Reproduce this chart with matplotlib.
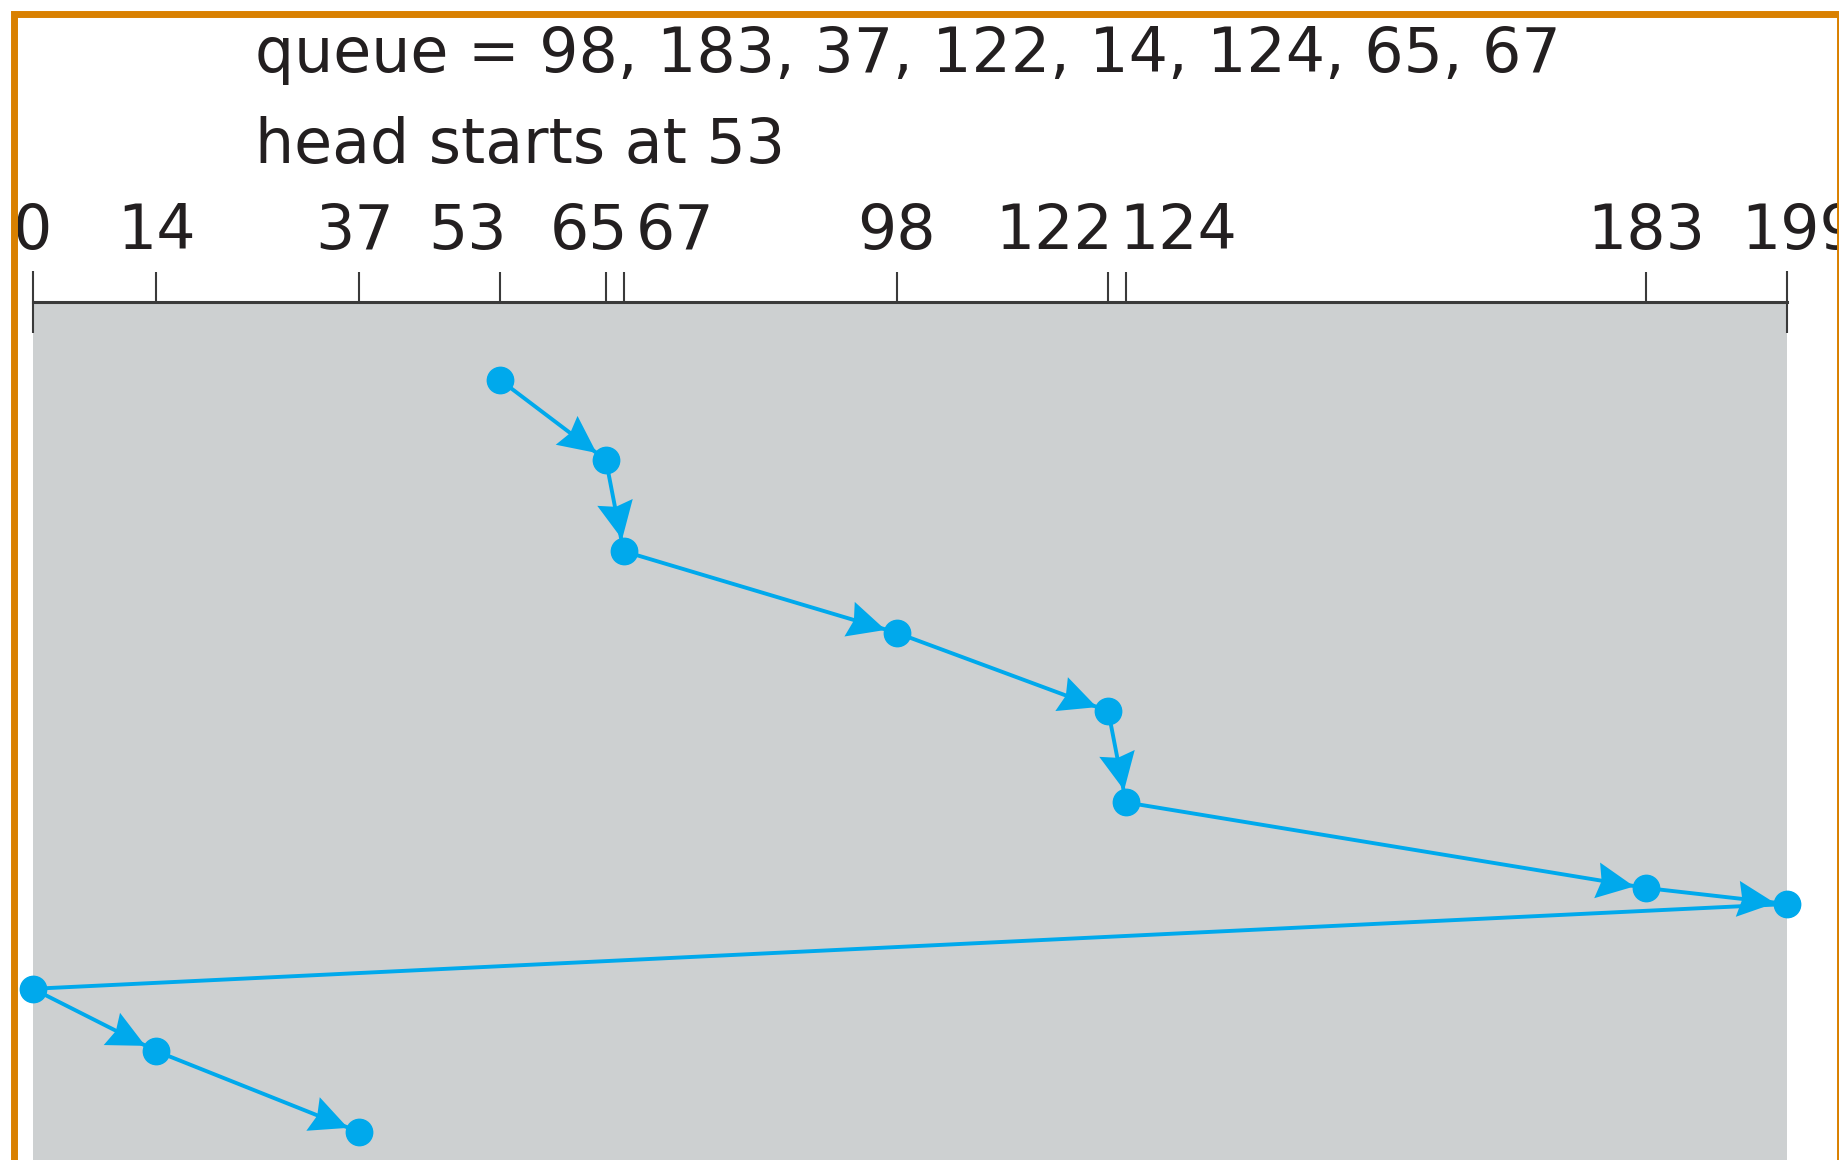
import matplotlib
matplotlib.use("Agg")
import numpy as np
import matplotlib.pyplot as plt
import matplotlib.patches as mpatches
import matplotlib.transforms as mtransforms
from matplotlib.path import Path
from matplotlib.markers import MarkerStyle

# disk request queue and head start (C-SCAN scheduling diagram)
queue = [98, 183, 37, 122, 14, 124, 65, 67]
head = 53
disk_first = 0
disk_last = 199

# order the head visits the cylinders, and when
service_order = [53, 65, 67, 98, 122, 124, 183, 199, 0, 14, 37]
service_time = [0.0, 1.0, 2.14, 3.16, 4.14, 5.28, 6.35, 6.55, 7.61, 8.39, 9.4]

BLUE = "#00a9ec"
GRAY = "#cdd0d1"
ORANGE = "#d98000"
INK = "#231f20"
AXIS = "#3a3a3a"
FONT = "DejaVu Sans"
FS = 44.5

# label nudges in pixels, so the crowded numbers don't collide
label_nudge = {37: -4, 53: -33, 65: -17, 67: 52, 122: -54, 124: 52, 199: 13}


def arrow_head(angle, back=9, length=27, half_w=13, notch=0.88):
    """Barbed arrowhead marker (units: points) whose tip sits `back` before the target."""
    verts = np.array([(0, 0), (-length, half_w), (-length * notch, 0),
                      (-length, -half_w), (0, 0)], dtype=float)
    verts[:, 0] -= back
    codes = [Path.MOVETO, Path.LINETO, Path.LINETO, Path.LINETO, Path.CLOSEPOLY]
    size = 2 * np.abs(verts).max()
    rot = mtransforms.Affine2D().rotate(angle)
    return MarkerStyle(Path(verts, codes), transform=rot), size


W, H = 1839, 1160
fig = plt.figure(figsize=(W / 100, H / 100), dpi=100)
fig.patch.set_facecolor("white")

ax = fig.add_axes([33 / W, 0, (1787 - 33) / W, (H - 302) / H])
ax.set_facecolor(GRAY)
ax.set_xlim(disk_first, disk_last)
ax.set_ylim(9.75, -0.975)
for side in ["left", "right", "bottom"]:
    ax.spines[side].set_visible(False)
ax.spines["top"].set_color(AXIS)
ax.spines["top"].set_linewidth(2.2)
ax.set_yticks([])

ticks = sorted(set(queue + [head]))
ax.xaxis.tick_top()
ax.set_xticks(ticks, [str(t) for t in ticks])
ax.set_xticks([disk_first, disk_last], [str(disk_first), str(disk_last)], minor=True)
ax.tick_params(axis="x", which="major", direction="out", length=21.6, width=1.5,
               color=AXIS, pad=7, labelsize=FS, labelcolor=INK)
ax.tick_params(axis="x", which="minor", direction="inout", length=44, width=1.5,
               color=AXIS, pad=7, labelsize=FS, labelcolor=INK)
for lab in ax.get_xticklabels(which="both"):
    lab.set_fontfamily(FONT)

for tick in ax.xaxis.get_major_ticks() + ax.xaxis.get_minor_ticks():
    val = int(round(tick.get_loc()))
    dx = label_nudge.get(val, 0)
    if dx:
        off = mtransforms.ScaledTranslation(dx / 100, 0, fig.dpi_scale_trans)
        tick.label2.set_transform(tick.label2.get_transform() + off)

# head path
ax.plot(service_order, service_time, color=BLUE, lw=2.8, clip_on=False, zorder=3)
for i in range(1, len(service_order)):
    a, b = service_order[i - 1], service_order[i]
    if a == disk_last and b == disk_first:
        continue  # return sweep, no arrow
    p0 = ax.transData.transform((a, service_time[i - 1]))
    p1 = ax.transData.transform((b, service_time[i]))
    ang = np.arctan2(p1[1] - p0[1], p1[0] - p0[0])
    mk, size = arrow_head(ang)
    ax.plot([b], [service_time[i]], marker=mk, ms=size, color=BLUE, mew=0,
            linestyle="none", clip_on=False, zorder=4)
ax.plot(service_order, service_time, "o", color=BLUE, ms=19, mec=BLUE,
        clip_on=False, zorder=5)

queue_txt = "queue = " + ", ".join(str(q) for q in queue)
fig.text(255 / W, 1 - 72 / H, queue_txt, fontsize=FS, family=FONT, color=INK, va="baseline")
fig.text(255 / W, 1 - 163 / H, f"head starts at {head}", fontsize=FS, family=FONT,
         color=INK, va="baseline")

border = mpatches.Rectangle((13.5 / W, -0.05), (1840 - 13.5) / W, 1.05 - 14 / H,
                            transform=fig.transFigure, fill=False, edgecolor=ORANGE,
                            lw=5.0, clip_on=False, zorder=10)
fig.patches.append(border)

fig.savefig("out.png", dpi=100)
